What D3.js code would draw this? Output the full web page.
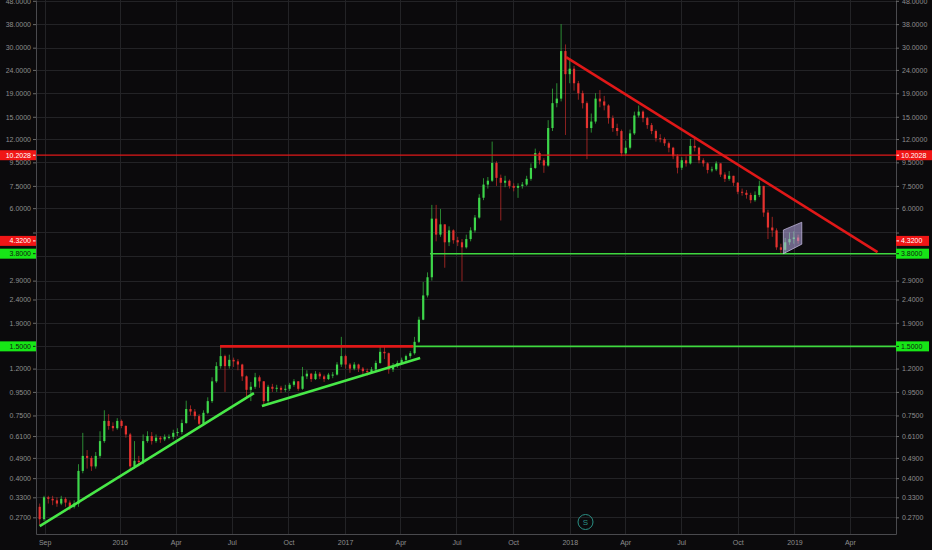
<!DOCTYPE html>
<html>
<head>
<meta charset="utf-8">
<script src="https://cdn.jsdelivr.net/npm/d3@7"></script>
<style>
  html, body { margin: 0; padding: 0; background: #0b0a0c; }
  svg { display: block; }
  .tick text { font-family: "Liberation Sans", Arial, sans-serif; font-size: 7px; fill: #8e8e8e; }
</style>
</head>
<body>
<div id="chart"></div>
<script>
// chart size
const svgWidth = 932
const svgHeight = 550
const plot = { left: 36, right: 896, top: 0, bottom: 534 }

// weekly candles, open = previous close
const weekStart = "2015-08-24"
const firstOpen = 0.30
const closeP = [0.265,0.33,0.325,0.32,0.31,0.325,0.313,0.30,0.31,0.43,
  0.50,0.49,0.45,0.50,0.58,0.71,0.675,0.66,0.71,0.675,
  0.62,0.45,0.476,0.47,0.58,0.61,0.58,0.60,0.59,0.605,
  0.605,0.63,0.635,0.695,0.80,0.78,0.745,0.69,0.77,0.866,
  1.056,1.23,1.36,1.23,1.31,1.29,1.25,1.11,0.97,1.00,
  1.10,1.056,0.866,1.00,0.98,0.99,0.97,0.98,1.02,1.056,
  0.98,1.11,1.14,1.08,1.14,1.11,1.08,1.13,1.13,1.25,
  1.36,1.25,1.20,1.25,1.20,1.17,1.16,1.19,1.27,1.42,
  1.40,1.19,1.23,1.27,1.31,1.36,1.40,1.57,1.96,2.50,
  3.00,5.40,4.60,5.10,4.26,4.80,4.35,4.26,4.05,4.40,
  4.80,5.46,6.66,7.60,7.90,9.44,8.13,7.74,7.90,7.50,
  7.36,7.50,7.60,8.05,8.98,10.43,9.70,9.20,13.40,17.20,
  18.00,29.00,23.00,24.30,21.00,19.00,17.20,13.40,14.30,18.00,
  17.50,16.80,14.80,13.40,13.00,10.40,11.00,12.70,15.20,15.80,
  14.80,13.80,13.00,12.10,12.00,11.50,11.00,10.10,9.00,9.70,
  9.40,11.20,11.00,9.70,9.40,8.80,8.85,9.40,8.40,8.05,
  8.30,7.74,7.07,7.00,6.85,6.50,6.85,7.50,5.74,4.94,
  4.80,4.05,3.95,4.26,4.40,4.47,4.32]
const highP = [0.31,0.335,0.335,0.335,0.33,0.335,0.33,0.32,0.32,0.46,
  0.63,0.53,0.50,0.52,0.64,0.79,0.76,0.70,0.73,0.72,
  0.68,0.63,0.58,0.50,0.62,0.64,0.635,0.62,0.61,0.62,
  0.62,0.65,0.66,0.72,0.87,0.83,0.80,0.76,0.79,0.90,
  1.10,1.28,1.50,1.38,1.38,1.34,1.32,1.26,1.12,1.05,
  1.15,1.12,1.06,1.02,1.03,1.02,1.01,1.02,1.04,1.08,
  1.06,1.22,1.18,1.15,1.17,1.16,1.13,1.15,1.16,1.28,
  1.65,1.38,1.27,1.28,1.26,1.22,1.20,1.22,1.30,1.50,
  1.52,1.41,1.27,1.30,1.34,1.38,1.43,1.65,2.02,2.86,
  3.15,6.20,6.20,5.95,5.10,5.00,4.85,4.50,4.40,4.60,
  4.95,5.60,6.90,8.10,8.20,11.70,9.60,8.40,8.30,8.00,
  7.70,7.70,7.80,8.30,9.40,10.90,10.60,9.90,14.50,19.90,
  21.00,38.00,31.00,26.90,25.00,21.50,19.50,17.50,15.50,19.00,
  19.60,18.50,17.00,15.20,14.00,13.20,11.80,13.20,15.80,16.80,
  16.00,15.00,14.10,13.20,12.60,12.20,11.70,11.10,10.30,10.00,
  10.10,12.00,12.30,11.10,9.90,9.50,9.10,9.60,9.40,8.60,
  8.70,8.30,7.80,7.30,7.20,7.00,7.10,7.90,7.50,5.90,
  5.50,4.90,4.20,4.45,4.70,4.75,4.60]
const lowP = [0.25,0.26,0.31,0.305,0.30,0.305,0.30,0.29,0.295,0.30,
  0.42,0.44,0.43,0.44,0.49,0.57,0.65,0.64,0.65,0.66,
  0.60,0.43,0.44,0.45,0.46,0.57,0.56,0.57,0.57,0.58,
  0.59,0.59,0.61,0.62,0.69,0.75,0.72,0.68,0.68,0.76,
  0.85,1.04,1.20,0.95,1.20,1.22,1.18,1.06,0.90,0.866,
  0.98,0.99,0.82,0.85,0.95,0.95,0.94,0.95,0.96,1.00,
  0.96,0.97,1.08,1.05,1.07,1.08,1.05,1.07,1.09,1.12,
  1.22,1.20,1.15,1.18,1.16,1.13,1.12,1.14,1.17,1.26,
  1.32,1.14,1.16,1.21,1.25,1.29,1.33,1.38,1.55,1.95,
  2.45,2.90,4.30,4.50,3.30,4.10,4.20,4.10,2.88,4.00,
  4.30,4.70,5.40,6.50,7.30,7.80,7.50,5.30,7.40,7.30,
  7.10,6.65,7.30,7.50,7.90,8.90,9.30,8.55,9.10,13.00,
  16.50,17.50,12.50,21.00,19.50,17.80,16.30,9.80,12.80,14.00,
  16.50,16.00,14.00,12.90,12.40,10.10,10.20,10.80,12.50,14.90,
  14.20,13.30,12.60,11.70,11.60,11.20,10.50,9.80,8.50,8.80,
  9.10,9.30,10.60,9.40,9.10,8.50,8.60,8.70,8.20,7.80,
  7.90,7.50,6.90,6.80,6.60,6.30,6.40,6.70,5.50,4.40,
  4.50,3.95,3.82,3.80,4.15,4.20,4.20]

// axis ticks (3.7 and 4.7 sit under the price boxes, grid only)
const yTicks = [0.27,0.33,0.40,0.49,0.61,0.75,0.95,1.2,1.5,1.9,2.4,2.9,3.7,4.7,6,7.5,9.5,12,15,19,24,30,38,48]
const hiddenTicks = [3.7, 4.7]
const xTicks = ["2015-09-01","2016-01-01","2016-04-01","2016-07-01","2016-10-01","2017-01-01","2017-04-01",
  "2017-07-01","2017-10-01","2018-01-01","2018-04-01","2018-07-01","2018-10-01","2019-01-01","2019-04-01"]
const xDomain = ["2015-08-18","2019-06-15"]
const yDomain = [0.2284, 48.4]

// drawings on the chart (date, price)
const greenTrend1 = [["2015-08-24",0.247],["2016-08-06",0.939]]
const greenTrend2 = [["2016-08-19",0.825],["2017-05-03",1.334]]
const redTrend = [["2017-12-26",27.3],["2019-05-16",3.86]]
const redResistance = [["2016-06-12",1.5],["2017-04-22",1.5]]
const greenSupport15 = [["2017-04-22",1.5],["2019-06-15",1.5]]
const greenSupport38 = [["2017-05-19",3.8],["2019-06-15",3.8]]
const redLevel = [["2015-08-18",10.2028],["2019-06-15",10.2028]]
const flagShape = [["2018-12-14",3.80],["2018-12-14",4.82],["2019-01-13",5.21],["2019-01-13",4.18]]

// price labels on both axes
const levelValues = [10.2028, 4.32, 3.8, 1.5]
const levelKinds = ["red", "red", "green", "green"]

const parseDate = d3.timeParse("%Y-%m-%d")

const svg = d3.select("#chart")
  .append("svg")
  .attr("width", svgWidth)
  .attr("height", svgHeight)

svg.append("rect")
  .attr("width", svgWidth)
  .attr("height", svgHeight)
  .attr("fill", "#0b0a0c")

const x = d3.scaleTime()
  .domain(xDomain.map(parseDate))
  .range([plot.left, plot.right])
const y = d3.scaleLog()
  .domain(yDomain)
  .range([plot.bottom, plot.top])

// grid
const grid = svg.append("g")
grid.selectAll(".hgrid")
  .data(yTicks)
  .enter()
  .append("line")
  .attr("x1", plot.left)
  .attr("x2", plot.right)
  .attr("y1", d => Math.round(y(d)) + 0.5)
  .attr("y2", d => Math.round(y(d)) + 0.5)
  .attr("stroke", "#232326")
grid.selectAll(".vgrid")
  .data(xTicks.map(parseDate))
  .enter()
  .append("line")
  .attr("x1", d => Math.round(x(d)) + 0.5)
  .attr("x2", d => Math.round(x(d)) + 0.5)
  .attr("y1", plot.top)
  .attr("y2", plot.bottom)
  .attr("stroke", "#232326")

svg.append("clipPath")
  .attr("id", "plotclip")
  .append("rect")
  .attr("x", plot.left)
  .attr("y", plot.top)
  .attr("width", plot.right - plot.left)
  .attr("height", plot.bottom - plot.top)

const chartGroup = svg.append("g").attr("clip-path", "url(#plotclip)")

// candles
const candles = closeP.map((c, i) => ({
  date: d3.timeDay.offset(parseDate(weekStart), 7 * i),
  open: i === 0 ? firstOpen : closeP[i - 1],
  high: highP[i],
  low: lowP[i],
  close: c
}))
const up = "#3dd64a"
const down = "#e5322f"
const bodyW = 2.2

chartGroup.selectAll(".wick")
  .data(candles)
  .enter()
  .append("line")
  .attr("x1", d => x(d.date))
  .attr("x2", d => x(d.date))
  .attr("y1", d => y(d.high))
  .attr("y2", d => y(d.low))
  .attr("stroke", d => d.close >= d.open ? up : down)
  .attr("stroke-width", 0.8)
  .attr("opacity", 0.8)

chartGroup.selectAll(".body")
  .data(candles)
  .enter()
  .append("rect")
  .attr("x", d => x(d.date) - bodyW / 2)
  .attr("width", bodyW)
  .attr("y", d => y(Math.max(d.open, d.close)))
  .attr("height", d => Math.max(1, Math.abs(y(d.open) - y(d.close))))
  .attr("fill", d => d.close >= d.open ? up : down)

// drawings
const line = d3.line()
  .x(d => x(parseDate(d[0])))
  .y(d => y(d[1]))

function drawLine(pts, color, width) {
  chartGroup.append("path")
    .attr("d", line(pts))
    .attr("fill", "none")
    .attr("stroke", color)
    .attr("stroke-width", width)
}
drawLine(redLevel, "#e01818", 1.3)
drawLine(greenSupport15, "#3fd83f", 1.6)
drawLine(greenSupport38, "#3fd83f", 1.6)
drawLine(redResistance, "#e01818", 2.6)
drawLine(greenTrend1, "#48e848", 2.6)
drawLine(greenTrend2, "#48e848", 2.6)
drawLine(redTrend, "#e01818", 2.6)

chartGroup.append("path")
  .attr("d", line(flagShape) + "Z")
  .attr("fill", "rgba(190,175,235,0.55)")
  .attr("stroke", "rgba(215,205,245,0.8)")
  .attr("stroke-width", 0.8)

// axes
const fmt = d3.format(".4f")
const tickFmt = d => hiddenTicks.includes(d) ? "" : fmt(d)
svg.append("g")
  .attr("transform", `translate(${plot.left},0)`)
  .call(d3.axisLeft(y).tickValues(yTicks).tickFormat(tickFmt).tickSize(3).tickSizeOuter(0).tickPadding(2))
svg.append("g")
  .attr("transform", `translate(${plot.right},0)`)
  .call(d3.axisRight(y).tickValues(yTicks).tickFormat(tickFmt).tickSize(3).tickSizeOuter(0).tickPadding(3))
const monthFmt = d3.timeFormat("%b")
svg.append("g")
  .attr("transform", `translate(0,${plot.bottom})`)
  .call(d3.axisBottom(x).tickValues(xTicks.map(parseDate))
    .tickFormat(d => d.getMonth() === 0 ? d.getFullYear() : monthFmt(d))
    .tickSize(0).tickPadding(6))

svg.selectAll(".domain").attr("stroke", "#4a4a4e")
svg.selectAll(".tick line").attr("stroke", "#6a6a6a")

// price label boxes
const boxColor = { red: "#f01616", green: "#17e617" }
const boxText = { red: "#ffffff", green: "#102010" }
levelValues.forEach((v, i) => {
  const k = levelKinds[i]
  const yy = y(v)
  const t = fmt(v)
  const w = t.length > 6 ? 36 : 33
  // left box
  svg.append("rect")
    .attr("x", 0).attr("y", yy - 5)
    .attr("width", plot.left).attr("height", 10)
    .attr("fill", boxColor[k])
  svg.append("text")
    .attr("x", 31).attr("y", yy + 2.5)
    .attr("text-anchor", "end")
    .attr("font-family", "Liberation Sans, Arial, sans-serif")
    .attr("font-size", 7)
    .attr("fill", boxText[k])
    .text(t)
  svg.append("line")
    .attr("x1", 33).attr("x2", 35.5)
    .attr("y1", yy).attr("y2", yy)
    .attr("stroke", boxText[k])
  // right box
  svg.append("rect")
    .attr("x", plot.right).attr("y", yy - 5)
    .attr("width", w).attr("height", 10)
    .attr("fill", boxColor[k])
  svg.append("line")
    .attr("x1", plot.right + 0.5).attr("x2", plot.right + 3)
    .attr("y1", yy).attr("y2", yy)
    .attr("stroke", boxText[k])
  svg.append("text")
    .attr("x", plot.right + 5).attr("y", yy + 2.5)
    .attr("font-family", "Liberation Sans, Arial, sans-serif")
    .attr("font-size", 7)
    .attr("fill", boxText[k])
    .text(t)
})

// snapshot watermark
svg.append("circle")
  .attr("cx", 585.5).attr("cy", 522)
  .attr("r", 7.5)
  .attr("fill", "none")
  .attr("stroke", "#2a8f84")
  .attr("stroke-width", 1)
svg.append("text")
  .attr("x", 585.5).attr("y", 525)
  .attr("text-anchor", "middle")
  .attr("font-family", "Liberation Sans, Arial, sans-serif")
  .attr("font-size", 8)
  .attr("fill", "#2a8f84")
  .text("S")
</script>
</body>
</html>
